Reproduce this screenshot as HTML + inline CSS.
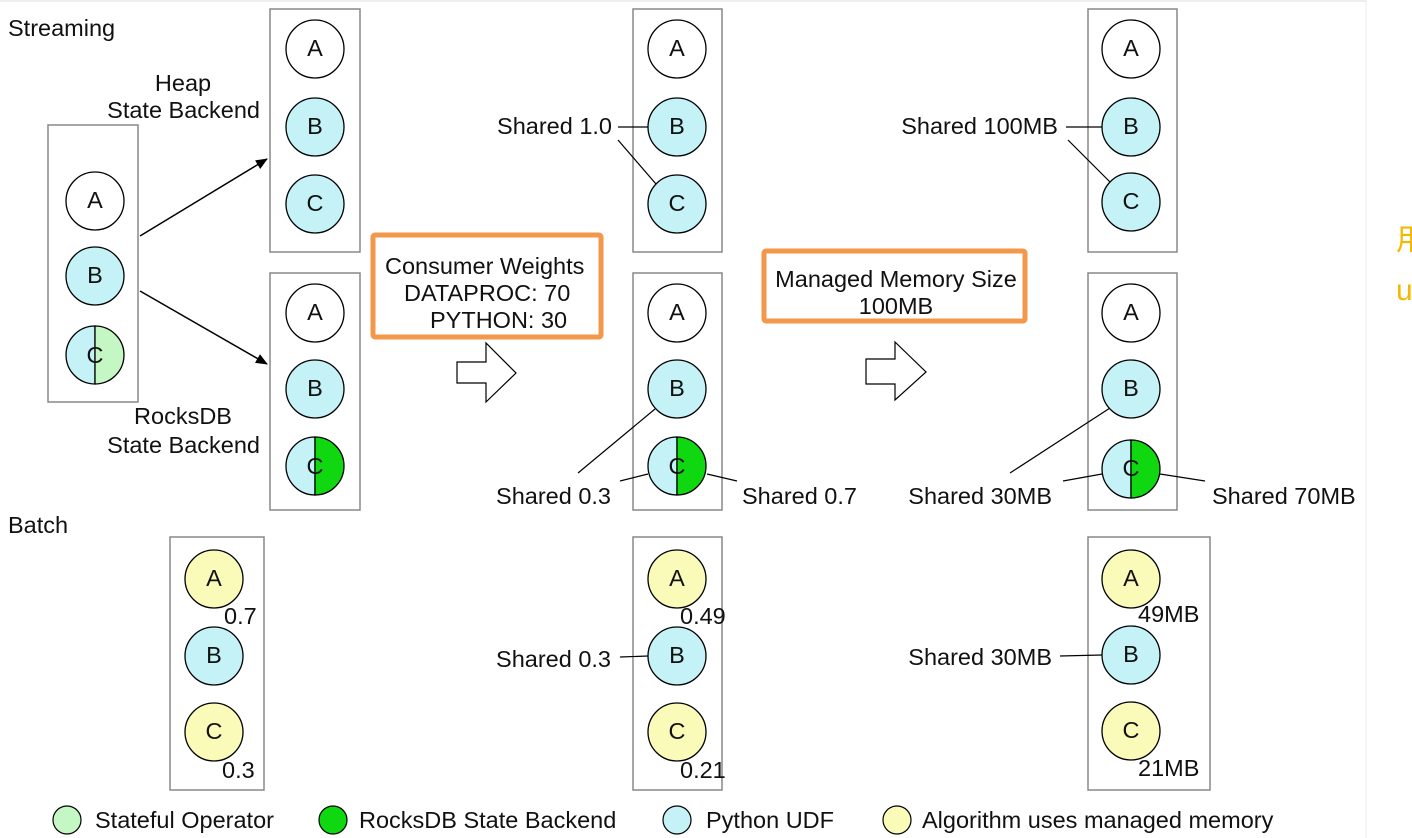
<!DOCTYPE html>
<html><head><meta charset="utf-8"><style>
html,body{margin:0;padding:0;background:#fff;width:1412px;height:838px;overflow:hidden}
svg text{font-family:"Liberation Sans","Noto Sans CJK SC",sans-serif;font-size:23.5px;fill:#111}
</style></head><body>
<svg width="1412" height="838" viewBox="0 0 1412 838" xmlns="http://www.w3.org/2000/svg">
<defs>
<marker id="ah" markerWidth="12" markerHeight="10" refX="11" refY="5" orient="auto" markerUnits="userSpaceOnUse"><path d="M0,0 L12,5 L0,10 z" fill="#000"/></marker>
</defs>
<line x1="1366" y1="0" x2="1366" y2="838" stroke="#eee" stroke-width="1"/>
<line x1="0" y1="1" x2="1366" y2="1" stroke="#ddd" stroke-width="1"/>
<text x="1396" y="250" style="fill:#f5b800;font-size:30px">用</text>
<text x="1396" y="300" style="fill:#f5b800;font-size:30px">u</text>

<g fill="none" stroke="#888" stroke-width="1.5">
<rect x="48" y="125" width="90" height="277"/>
<rect x="270" y="9" width="90" height="243"/>
<rect x="270" y="273" width="90" height="237"/>
<rect x="633" y="9" width="89" height="243"/>
<rect x="633" y="273" width="89" height="237"/>
<rect x="1088" y="9" width="89" height="243"/>
<rect x="1088" y="273" width="89" height="237"/>
<rect x="170" y="537" width="94" height="253"/>
<rect x="633" y="537" width="89" height="253"/>
<rect x="1088" y="537" width="122" height="253"/>
</g>

<text x="8" y="36">Streaming</text>
<text x="8" y="533">Batch</text>
<text x="183" y="91" text-anchor="middle">Heap</text>
<text x="260" y="118" text-anchor="end">State Backend</text>
<text x="183" y="424" text-anchor="middle">RocksDB</text>
<text x="260" y="453" text-anchor="end">State Backend</text>

<line x1="140" y1="236" x2="267" y2="159" stroke="#000" stroke-width="1.5" marker-end="url(#ah)"/>
<line x1="140" y1="291" x2="267" y2="364" stroke="#000" stroke-width="1.5" marker-end="url(#ah)"/>

<g stroke="#000" stroke-width="1.2">
<line x1="618" y1="127" x2="648" y2="127"/>
<line x1="618" y1="140" x2="656" y2="184"/>
<line x1="1066" y1="127" x2="1102" y2="127"/>
<line x1="1068" y1="140" x2="1110" y2="182"/>
<line x1="578" y1="473" x2="655" y2="409"/>
<line x1="620" y1="481" x2="648" y2="474"/>
<line x1="707" y1="474" x2="737" y2="481"/>
<line x1="1010" y1="473" x2="1110" y2="408"/>
<line x1="1063" y1="481" x2="1102" y2="474"/>
<line x1="1160" y1="474" x2="1205" y2="481"/>
<line x1="620" y1="657" x2="648" y2="656"/>
<line x1="1060" y1="656" x2="1102" y2="655"/>
</g>

<g stroke="#000" stroke-width="1.3">
<circle cx="95" cy="201" r="29" fill="#fff"/>
<circle cx="315" cy="49" r="29" fill="#fff"/>
<circle cx="315" cy="313" r="29" fill="#fff"/>
<circle cx="677" cy="49" r="29" fill="#fff"/>
<circle cx="677" cy="313" r="29" fill="#fff"/>
<circle cx="1131" cy="49" r="29" fill="#fff"/>
<circle cx="1131" cy="313" r="29" fill="#fff"/>
<circle cx="95" cy="276" r="29" fill="#c4f2f7"/>
<circle cx="315" cy="127" r="29" fill="#c4f2f7"/>
<circle cx="315" cy="204" r="29" fill="#c4f2f7"/>
<circle cx="315" cy="389" r="29" fill="#c4f2f7"/>
<circle cx="677" cy="127" r="29" fill="#c4f2f7"/>
<circle cx="677" cy="204" r="29" fill="#c4f2f7"/>
<circle cx="677" cy="389" r="29" fill="#c4f2f7"/>
<circle cx="1131" cy="127" r="29" fill="#c4f2f7"/>
<circle cx="1131" cy="202" r="29" fill="#c4f2f7"/>
<circle cx="1131" cy="389" r="29" fill="#c4f2f7"/>
<circle cx="214" cy="656" r="29" fill="#c4f2f7"/>
<circle cx="677" cy="656" r="29" fill="#c4f2f7"/>
<circle cx="1131" cy="655" r="29" fill="#c4f2f7"/>
<circle cx="214" cy="579" r="29" fill="#fafab9"/>
<circle cx="214" cy="732" r="29" fill="#fafab9"/>
<circle cx="677" cy="579" r="29" fill="#fafab9"/>
<circle cx="677" cy="732" r="29" fill="#fafab9"/>
<circle cx="1131" cy="579" r="29" fill="#fafab9"/>
<circle cx="1131" cy="731" r="29" fill="#fafab9"/>
<path d="M95,326 A29,29 0 0 0 95,384 Z" fill="#c4f2f7"/>
<path d="M95,326 A29,29 0 0 1 95,384 Z" fill="#c4f7c4"/>
<path d="M315,437 A29,29 0 0 0 315,495 Z" fill="#c4f2f7"/>
<path d="M315,437 A29,29 0 0 1 315,495 Z" fill="#10d810"/>
<path d="M677,437 A29,29 0 0 0 677,495 Z" fill="#c4f2f7"/>
<path d="M677,437 A29,29 0 0 1 677,495 Z" fill="#10d810"/>
<path d="M1131,440 A29,29 0 0 0 1131,498 Z" fill="#c4f2f7"/>
<path d="M1131,440 A29,29 0 0 1 1131,498 Z" fill="#10d810"/>
</g>

<g text-anchor="middle" style="font-size:21px">
<text x="95" y="208">A</text><text x="95" y="283">B</text><text x="95" y="363">C</text>
<text x="315" y="56">A</text><text x="315" y="134">B</text><text x="315" y="211">C</text>
<text x="315" y="320">A</text><text x="315" y="396">B</text><text x="315" y="474">C</text>
<text x="677" y="56">A</text><text x="677" y="134">B</text><text x="677" y="211">C</text>
<text x="677" y="320">A</text><text x="677" y="396">B</text><text x="677" y="474">C</text>
<text x="1131" y="56">A</text><text x="1131" y="134">B</text><text x="1131" y="209">C</text>
<text x="1131" y="320">A</text><text x="1131" y="396">B</text><text x="1131" y="476">C</text>
<text x="214" y="586">A</text><text x="214" y="663">B</text><text x="214" y="739">C</text>
<text x="677" y="586">A</text><text x="677" y="663">B</text><text x="677" y="739">C</text>
<text x="1131" y="586">A</text><text x="1131" y="662">B</text><text x="1131" y="738">C</text>
</g>

<text x="224" y="624">0.7</text>
<text x="222" y="778">0.3</text>
<text x="680" y="624">0.49</text>
<text x="680" y="778">0.21</text>
<text x="1138" y="622">49MB</text>
<text x="1138" y="776">21MB</text>

<text x="612" y="134" text-anchor="end">Shared 1.0</text>
<text x="1058" y="134" text-anchor="end">Shared 100MB</text>
<text x="611" y="504" text-anchor="end">Shared 0.3</text>
<text x="742" y="504">Shared 0.7</text>
<text x="1052" y="504" text-anchor="end">Shared 30MB</text>
<text x="1212" y="504">Shared 70MB</text>
<text x="611" y="667" text-anchor="end">Shared 0.3</text>
<text x="1052" y="665" text-anchor="end">Shared 30MB</text>

<rect x="373" y="235" width="228" height="102" fill="none" stroke="#f3974a" stroke-width="5" rx="2"/>
<text x="385" y="274">Consumer Weights</text>
<text x="404" y="301">DATAPROC: 70</text>
<text x="430" y="328">PYTHON: 30</text>
<rect x="764" y="251" width="261" height="70" fill="none" stroke="#f3974a" stroke-width="5" rx="2"/>
<text x="896" y="287" text-anchor="middle">Managed Memory Size</text>
<text x="896" y="314" text-anchor="middle">100MB</text>

<path d="M457,362 L486,362 L486,343 L516,373 L486,402 L486,383 L457,383 Z" fill="#fff" stroke="#000" stroke-width="1.2"/>
<path d="M866,359 L895,359 L895,342 L926,372 L895,400 L895,384 L866,384 Z" fill="#fff" stroke="#000" stroke-width="1.2"/>

<g stroke="#000" stroke-width="1.2">
<circle cx="67" cy="820" r="14" fill="#c4f7c4"/>
<circle cx="333" cy="820" r="14" fill="#10d810"/>
<circle cx="677" cy="820" r="14" fill="#c4f2f7"/>
<circle cx="897" cy="820" r="14" fill="#fafab9"/>
</g>
<text x="95" y="828">Stateful Operator</text>
<text x="359" y="828">RocksDB State Backend</text>
<text x="706" y="828">Python UDF</text>
<text x="922" y="828">Algorithm uses managed memory</text>
</svg>
</body></html>
